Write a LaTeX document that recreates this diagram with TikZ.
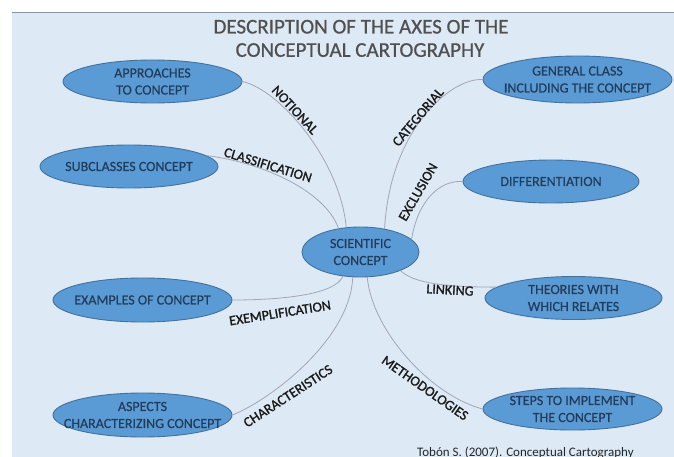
\documentclass[tikz,border=0pt]{standalone}
\usepackage{fontspec}
\setmainfont{Carlito}
\newfontfamily\lblfont[FakeBold=1.2]{Carlito}
\newfontfamily\ellfont[FakeBold=0.5]{Carlito}
\newfontfamily\ttlfont[FakeBold=0.6]{Carlito}
\usetikzlibrary{shapes.geometric}
\definecolor{bgblue}{HTML}{DDE9F5}
\definecolor{ellfill}{HTML}{5B9BD5}
\definecolor{elldraw}{HTML}{41719C}
\definecolor{elltext}{HTML}{223C5A}
\definecolor{titlegrey}{HTML}{505050}
\definecolor{linkgrey}{HTML}{A3A6B4}
\definecolor{topline}{HTML}{8496AA}
\begin{document}
\begin{tikzpicture}[x=1pt,y=-1pt,
  ell/.style={ellipse, fill=ellfill, draw=elldraw, line width=0.9pt, inner sep=0pt},
  etxt/.style={text=elltext, align=center, font=\ellfont\fontsize{14}{17}\selectfont, inner sep=0pt},
  axlabel/.style={text=black!90, font=\lblfont\fontsize{14}{16}\selectfont, inner sep=0pt},
  ttl/.style={text=titlegrey, font=\ttlfont\fontsize{21}{23}\selectfont, inner sep=0pt, anchor=base},
  conn/.style={draw=linkgrey, line width=0.8pt}]
\useasboundingbox (0,0) rectangle (674,457);
\fill[bgblue] (12,12) rectangle (674,457);
\draw[topline, line width=1.5pt] (12,12.5) -- (674,12.5);

\node[ttl] (title1) at (361,33.5) {DESCRIPTION OF THE AXES OF THE};
\node[ttl] (title2) at (360,56.8) {CONCEPTUAL CARTOGRAPHY};

% ellipses
\node[ell, minimum width=179pt, minimum height=43pt] (appr) at (152.5,81.5) {};
\node[ell, minimum width=189pt, minimum height=47pt] (gen) at (577.5,79.5) {};
\node[ell, minimum width=178pt, minimum height=43pt] (subc) at (129,166.5) {};
\node[ell, minimum width=176pt, minimum height=43pt] (diff) at (551,181.5) {};
\node[ell, minimum width=117pt, minimum height=50pt] (sci) at (360.5,252) {};
\node[ell, minimum width=177pt, minimum height=43pt] (theo) at (573.5,298) {};
\node[ell, minimum width=179pt, minimum height=44pt] (exam) at (142.5,300) {};
\node[ell, minimum width=179pt, minimum height=42pt] (steps) at (572.5,409) {};
\node[ell, minimum width=179pt, minimum height=44pt] (asp) at (142.5,415) {};

\node[etxt] (apprt) at (appr) {APPROACHES\\TO CONCEPT};
\node[etxt] (gent) at (gen) {GENERAL CLASS\\INCLUDING THE CONCEPT};
\node[etxt] (subct) at (subc) {SUBCLASSES CONCEPT};
\node[etxt] (difft) at (diff) {DIFFERENTIATION};
\node[etxt] (scit) at (sci) {SCIENTIFIC\\CONCEPT};
\node[etxt] (theot) at (theo) {THEORIES WITH\\WHICH RELATES};
\node[etxt] (examt) at (exam) {EXAMPLES OF CONCEPT};
\node[etxt] (stepst) at (steps) {STEPS TO IMPLEMENT\\THE CONCEPT};
\node[etxt] (aspt) at (asp) {ASPECTS\\CHARACTERIZING CONCEPT};

% connectors
\draw[conn] (appr.east) .. controls (280,90) and (340,160) .. (sci.120);
\draw[conn] (subc.8) .. controls (260,162) and (325,190) .. (sci.133);
\draw[conn] (gen.west) .. controls (450,78) and (390,130) .. (sci.44);
\draw[conn] (diff.west) .. controls (440,180) and (418,200) .. (sci.14);
\draw[conn] (sci.-25) .. controls (415,285) and (455,287) .. (theo.172);
\draw[conn] (exam.east) .. controls (280,300) and (335,295) .. (sci.-126);
\draw[conn] (asp.east) .. controls (270,400) and (350,340) .. (sci.-107);
\draw[conn] (sci.-75) .. controls (372,330) and (430,395) .. (steps.west);

% axis labels
\node[axlabel, rotate=-47] (lnot) at (295,110) {NOTIONAL};
\node[axlabel, rotate=-17] (lcla) at (268,165) {CLASSIFICATION};
\node[axlabel, rotate=50] (lcat) at (418,117) {CATEGORIAL};
\node[axlabel, rotate=60] (lexc) at (418,192) {EXCLUSION};
\node[axlabel, rotate=-3] (llin) at (450,290) {LINKING};
\node[axlabel, rotate=9] (lexe) at (280,313) {EXEMPLIFICATION};
\node[axlabel, rotate=33] (lcha) at (288,396) {CHARACTERISTICS};
\node[axlabel, rotate=-35] (lmet) at (425,388) {METHODOLOGIES};

\node[anchor=base west, font=\fontsize{13}{15}\selectfont, text=black!85, inner sep=0pt] (foot) at (417,456.5) {Tobón S. (2007). Conceptual Cartography};
\end{tikzpicture}
\end{document}
